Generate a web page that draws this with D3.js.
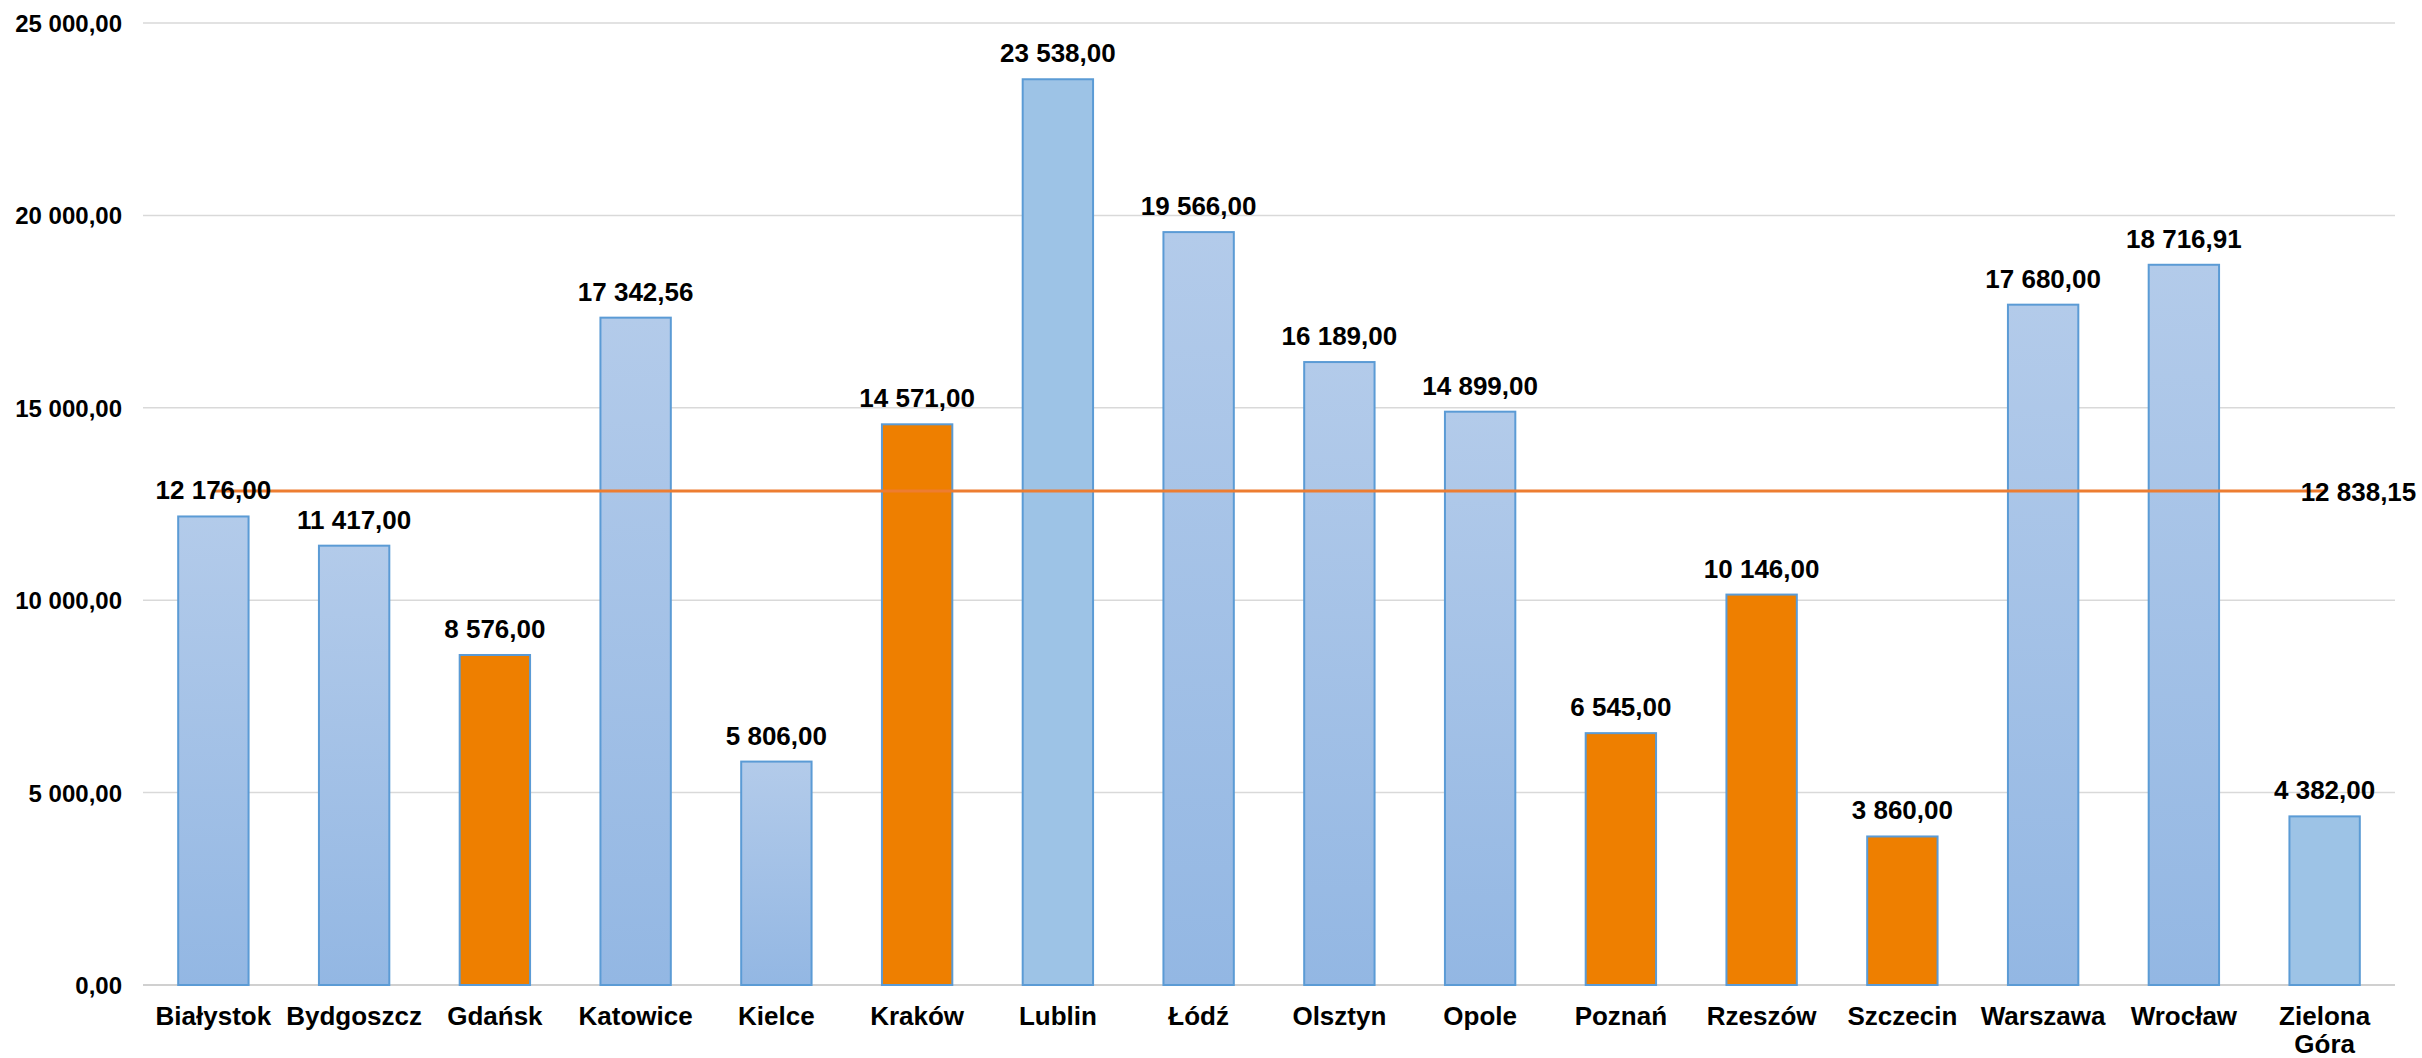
<!DOCTYPE html>
<html>
<head>
<meta charset="utf-8">
<script src="https://cdn.jsdelivr.net/npm/d3@7"></script>
<style>
  html, body { margin: 0; padding: 0; background: #ffffff; }
  svg { display: block; }
  text { font-family: "Liberation Sans", Arial, sans-serif; font-weight: bold; fill: #000; }
</style>
</head>
<body>
<svg id="chart" width="2422" height="1058"></svg>
<script>
// ---- data ----
const categories = ["Białystok", "Bydgoszcz", "Gdańsk", "Katowice", "Kielce", "Kraków", "Lublin", "Łódź",
  "Olsztyn", "Opole", "Poznań", "Rzeszów", "Szczecin", "Warszawa", "Wrocław", "Zielona Góra"];
const values = [12176, 11417, 8576, 17342.56, 5806, 14571, 23538, 19566,
  16189, 14899, 6545, 10146, 3860, 17680, 18716.91, 4382];
const highlighted = ["Gdańsk", "Kraków", "Poznań", "Rzeszów", "Szczecin"];
const flatFill = ["Lublin", "Zielona Góra"];
const averageValue = [12838.15];
const yTicks = [0, 5000, 10000, 15000, 20000, 25000];

// ---- layout ----
const W = 2422, H = 1058;
const plot = { left: 143, right: 2395, top: 23, bottom: 985 };

const svg = d3.select("#chart");
const locale = d3.formatLocale({ decimal: ",", thousands: " ", grouping: [3], currency: ["", ""] });
const fmt = locale.format(",.2f");

const x = d3.scaleBand().domain(categories).range([plot.left, plot.right]).paddingInner(0.5).paddingOuter(0.25);
const y = d3.scaleLinear().domain([0, 25000]).range([plot.bottom, plot.top]);

const defs = svg.append("defs");
const grad = defs.append("linearGradient").attr("id", "blueGrad")
  .attr("x1", 0).attr("y1", 0).attr("x2", 0).attr("y2", 1);
grad.append("stop").attr("offset", "0%").attr("stop-color", "#B3CBEA");
grad.append("stop").attr("offset", "100%").attr("stop-color", "#93B7E3");

// gridlines
svg.append("g").selectAll("line").data(yTicks).join("line")
  .attr("x1", plot.left).attr("x2", plot.right)
  .attr("y1", d => y(d)).attr("y2", d => y(d))
  .attr("stroke", d => d === 0 ? "#D0D0D0" : "#D9D9D9")
  .attr("stroke-width", d => d === 0 ? 2 : 1.5);

// y axis labels
const yAxis = d3.axisLeft(y).tickValues(yTicks).tickFormat(fmt).tickSize(0).tickPadding(0);
const yG = svg.append("g").attr("transform", `translate(${plot.left - 21},0)`).call(yAxis);
yG.select(".domain").remove();
yG.selectAll("text").attr("font-size", 24).attr("font-family", "Liberation Sans, Arial, sans-serif")
  .attr("font-weight", "bold").attr("fill", "#000").attr("dy", "0.35em");

// bars
const data = categories.map((c, i) => ({ c, v: values[i] }));
svg.append("g").selectAll("rect").data(data).join("rect")
  .attr("x", d => x(d.c))
  .attr("y", d => y(d.v))
  .attr("width", x.bandwidth())
  .attr("height", d => y(0) - y(d.v))
  .attr("fill", d => highlighted.includes(d.c) ? "#EE7F00" : (flatFill.includes(d.c) ? "#9DC3E6" : "url(#blueGrad)"))
  .attr("stroke", "#5B9BD5")
  .attr("stroke-width", 2);

// average line
const avg = averageValue[0];
svg.append("line")
  .attr("x1", x(categories[0]) + x.bandwidth() / 2)
  .attr("x2", x(categories[categories.length - 1]) + x.bandwidth() / 2)
  .attr("y1", y(avg)).attr("y2", y(avg))
  .attr("stroke", "#ED7D31").attr("stroke-width", 3);

// value labels
svg.append("g").selectAll("text").data(data).join("text")
  .attr("x", d => x(d.c) + x.bandwidth() / 2)
  .attr("y", d => y(d.v) - 17)
  .attr("text-anchor", "middle")
  .attr("font-size", 26)
  .text(d => fmt(d.v));

// average label
svg.append("text")
  .attr("x", x(categories[categories.length - 1]) + x.bandwidth() / 2 - 24)
  .attr("y", y(avg) + 10)
  .attr("text-anchor", "start")
  .attr("font-size", 26)
  .text(fmt(avg));

// x axis labels
const xl = svg.append("g").selectAll("text").data(categories).join("text")
  .attr("x", d => x(d) + x.bandwidth() / 2)
  .attr("y", 1025)
  .attr("text-anchor", "middle")
  .attr("font-size", 26);
xl.each(function (d) {
  const words = d.split(" ");
  const t = d3.select(this);
  if (words.length > 1) {
    words.forEach((w, i) => {
      t.append("tspan").attr("x", x(d) + x.bandwidth() / 2).attr("dy", i === 0 ? 0 : 28).text(w);
    });
  } else {
    t.text(d);
  }
});
</script>
</body>
</html>
